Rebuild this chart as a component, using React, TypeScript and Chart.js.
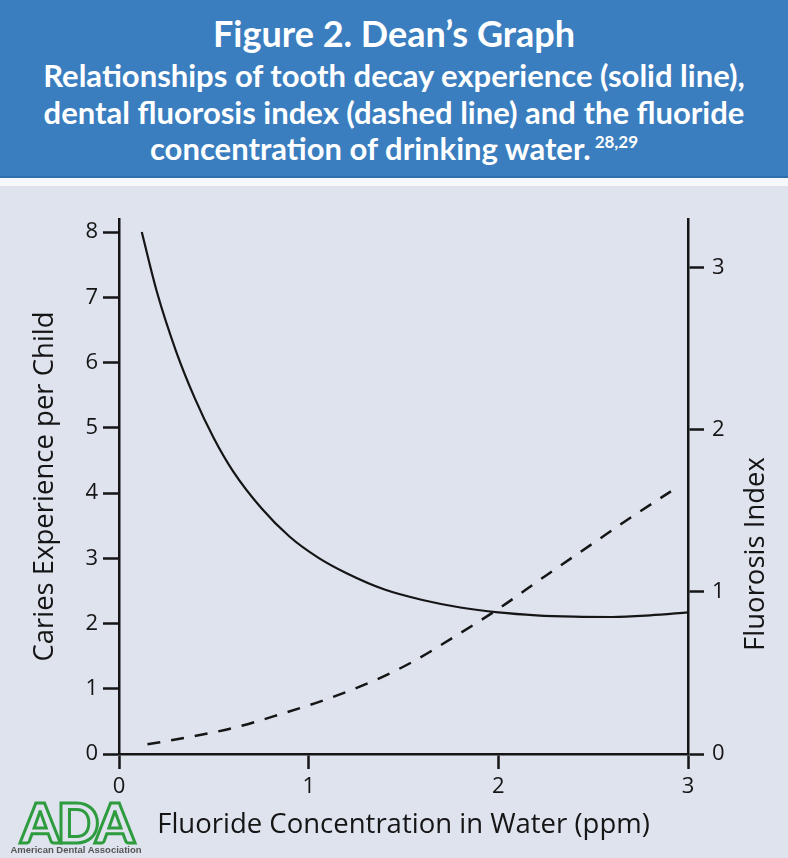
import React, { useEffect, useRef } from "react";
import { Chart, registerables } from "chart.js";

Chart.register(...registerables);

// ---- data ----
const cariesPpm = [0.12, 0.2, 0.3, 0.4, 0.5, 0.6, 0.75, 0.9, 1.05, 1.2, 1.4, 1.6, 1.8, 2.0, 2.2, 2.4, 2.6, 2.8, 3.0];
const cariesPerChild = [8.0, 7.08, 6.18, 5.45, 4.84, 4.34, 3.77, 3.33, 3.01, 2.77, 2.52, 2.36, 2.245, 2.17, 2.125, 2.105, 2.1, 2.125, 2.17];
const fluorosisPpm = [0.15, 0.35, 0.6, 0.85, 1.1, 1.35, 1.55, 1.75, 2.0, 2.25, 2.5, 2.7, 2.91];
const fluorosisIndex = [0.06, 0.1, 0.16, 0.245, 0.34, 0.455, 0.57, 0.71, 0.895, 1.1, 1.3, 1.46, 1.62];

const xTickLabels = ["0", "1", "2", "3"];
const cariesTickLabels = ["0", "1", "2", "3", "4", "5", "6", "7", "8"];
const fluorosisTickLabels = ["0", "1", "2", "3"];

const titleText = "Figure 2. Dean\u2019s Graph";
const subtitleLines = [
  "Relationships of tooth decay experience (solid line),",
  "dental fluorosis index (dashed line) and the fluoride",
  "concentration of drinking water.",
];
const footnoteRefs = "28,29";
const xTitle = "Fluoride Concentration in Water (ppm)";
const leftTitle = "Caries Experience per Child";
const rightTitle = "Fluorosis Index";

const INK = "#151515";
const AXIS_FONT = "'Open Sans', 'Noto Sans', sans-serif";
const TITLE_SIZE = 27.5;

const rightTitlePlugin = {
  id: "rightTitle",
  afterDraw(chart: any) {
    const s = chart.scales.y1;
    const ctx = chart.ctx;
    ctx.save();
    ctx.translate(s.right - 32, 368);
    ctx.rotate(-Math.PI / 2);
    ctx.font = `${TITLE_SIZE}px ${AXIS_FONT}`;
    ctx.fillStyle = INK;
    ctx.textAlign = "center";
    ctx.textBaseline = "middle";
    ctx.fillText(rightTitle, 0, 0);
    ctx.restore();
  },
};

function DeanChart() {
  const ref = useRef<HTMLCanvasElement | null>(null);
  useEffect(() => {
    if (!ref.current) return;
    const tickFont = { family: AXIS_FONT, size: 22 };
    const gridCommon = {
      drawOnChartArea: false,
      drawTicks: true,
      tickLength: 16,
      tickWidth: 2.5,
      tickColor: INK,
    };
    const border = { display: true, color: INK, width: 2.5 };
    const chart = new Chart(ref.current, {
      type: "line",
      data: {
        datasets: [
          {
            label: "Caries experience",
            data: cariesPpm.map((x, i) => ({ x, y: cariesPerChild[i] })),
            yAxisID: "y",
            borderColor: INK,
            borderWidth: 2.2,
            pointRadius: 0,
            fill: false,
            cubicInterpolationMode: "monotone",
          },
          {
            label: "Fluorosis index",
            data: fluorosisPpm.map((x, i) => ({ x, y: fluorosisIndex[i] })),
            yAxisID: "y1",
            borderColor: INK,
            borderWidth: 2.5,
            borderDash: [13, 11],
            pointRadius: 0,
            fill: false,
            cubicInterpolationMode: "monotone",
          },
        ],
      },
      options: {
        animation: false,
        responsive: false,
        events: [],
        layout: { padding: { top: 33, left: 0, right: 0, bottom: 0 } },
        plugins: { legend: { display: false }, tooltip: { enabled: false } },
        scales: {
          x: {
            type: "linear",
            min: 0,
            max: 3,
            ticks: {
              stepSize: 1,
              font: tickFont,
              color: INK,
              padding: 5,
              callback: (v: any) => xTickLabels[Number(v)] ?? "",
            },
            grid: { ...gridCommon, tickLength: 15 },
            border,
            title: {
              display: true,
              text: xTitle,
              color: INK,
              font: { family: AXIS_FONT, size: TITLE_SIZE },
              padding: { top: 0, bottom: 16 },
            },
            afterFit: (s: any) => {
              s.height = 104;
              s.paddingLeft = 0;
              s.paddingRight = 0;
            },
          },
          y: {
            type: "linear",
            position: "left",
            min: 0,
            max: 8.2,
            ticks: {
              stepSize: 1,
              includeBounds: false,
              font: tickFont,
              color: INK,
              padding: 5,
              callback: (v: any) => cariesTickLabels[Number(v)] ?? "",
            },
            grid: gridCommon,
            border,
            title: {
              display: true,
              text: leftTitle,
              color: INK,
              font: { family: AXIS_FONT, size: TITLE_SIZE },
              padding: { top: 28.5, bottom: 0 },
            },
            afterFit: (s: any) => {
              s.width = 119;
              s.paddingTop = 0;
              s.paddingBottom = 0;
            },
          },
          y1: {
            type: "linear",
            position: "right",
            min: 0,
            max: 3.3,
            ticks: {
              stepSize: 1,
              includeBounds: false,
              font: tickFont,
              color: INK,
              padding: 8,
              callback: (v: any) => fluorosisTickLabels[Number(v)] ?? "",
            },
            grid: gridCommon,
            border,
            afterFit: (s: any) => {
              s.width = 100;
              s.paddingTop = 0;
              s.paddingBottom = 0;
            },
          },
        },
      },
      plugins: [rightTitlePlugin],
    } as any);
    return () => chart.destroy();
  }, []);
  return <canvas ref={ref} width={788} height={672} style={{ display: "block" }} />;
}

export default function App() {
  useEffect(() => {
    document.body.style.margin = "0";
  }, []);
  const headerFont = "Lato, 'Open Sans', sans-serif";
  return (
    <div
      style={{
        position: "absolute",
        left: 0,
        top: 0,
        width: 788,
        height: 858,
        overflow: "hidden",
        background: "#dee3ee",
      }}
    >
      <div
        style={{
          position: "absolute",
          left: 0,
          top: 0,
          width: 788,
          height: 178,
          background: "#3a7ec0",
          borderBottom: "2px solid #2f6fae",
          boxSizing: "border-box",
          color: "#ffffff",
          fontFamily: headerFont,
          fontWeight: 700,
          textAlign: "center",
        }}
      >
        <div style={{ position: "absolute", left: 0, width: 788, top: 13, height: 40, lineHeight: "40px", fontSize: 36 }}>
          {titleText}
        </div>
        {subtitleLines.map((line, i) => (
          <div
            key={i}
            style={{
              position: "absolute",
              left: 0,
              width: 788,
              top: 56 + i * 36.5,
              height: 38,
              lineHeight: "38px",
              fontSize: 31,
              whiteSpace: "nowrap",
            }}
          >
            {line}
            {i === subtitleLines.length - 1 ? (
              <span style={{ fontSize: 17, position: "relative", top: -12, marginLeft: 4 }}>{footnoteRefs}</span>
            ) : null}
          </div>
        ))}
      </div>
      <div style={{ position: "absolute", left: 0, top: 178, width: 788, height: 8, background: "#f6f8fb" }} />
      <div style={{ position: "absolute", left: 0, top: 186, width: 788, height: 672 }}>
        <DeanChart />
      </div>
      <div
        style={{
          position: "absolute",
          left: 8,
          top: 794,
          width: 136,
          textAlign: "center",
          fontFamily: "Lato, sans-serif",
          fontWeight: 900,
          fontSize: 56,
          lineHeight: "56px",
          letterSpacing: -3,
          color: "transparent",
          WebkitTextStroke: "3px #2e9c3e",
        }}
      >
        ADA
      </div>
      <div
        style={{
          position: "absolute",
          left: 10,
          top: 844,
          width: 132,
          textAlign: "center",
          fontFamily: "'Liberation Sans', Arial, sans-serif",
          fontWeight: 700,
          fontSize: 9.5,
          lineHeight: "11px",
          color: "#555555",
          whiteSpace: "nowrap",
        }}
      >
        American Dental Association
      </div>
    </div>
  );
}
